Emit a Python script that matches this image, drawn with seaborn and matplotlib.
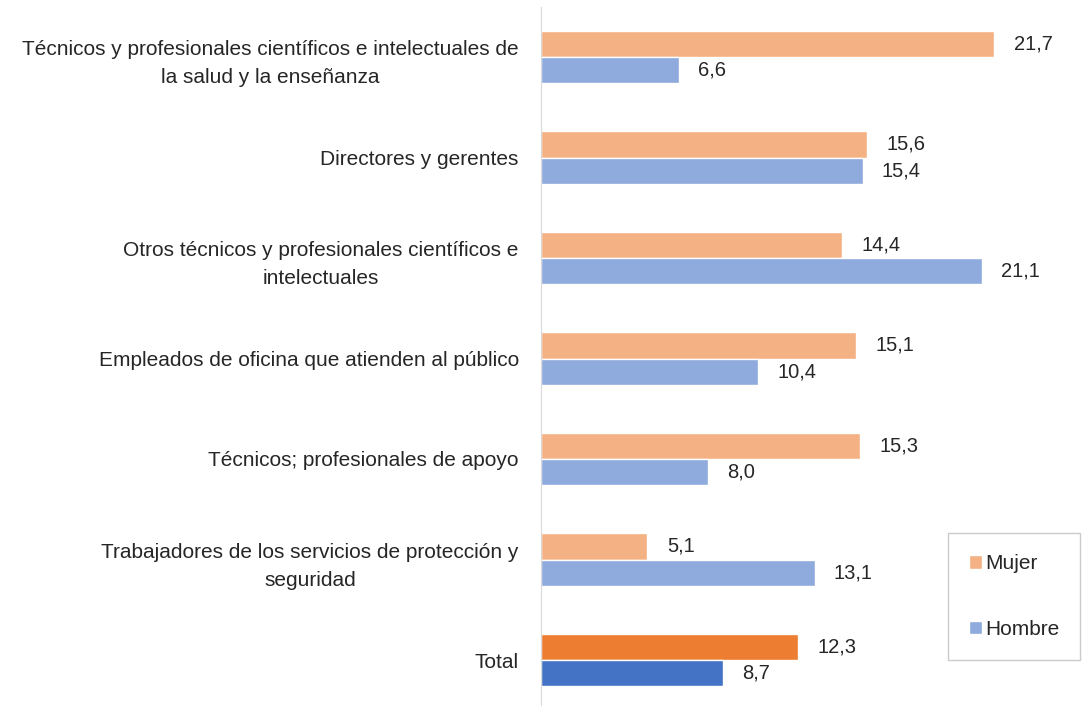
import pandas as pd
import matplotlib
matplotlib.use('Agg')
import matplotlib.pyplot as plt
import seaborn as sns

categorias = [
    "Técnicos y profesionales científicos e intelectuales de\nla salud y la enseñanza",
    "Directores y gerentes",
    "Otros técnicos y profesionales científicos e\nintelectuales",
    "Empleados de oficina que atienden al público",
    "Técnicos; profesionales de apoyo",
    "Trabajadores de los servicios de protección y\nseguridad",
    "Total",
]
mujer = [21.7, 15.6, 14.4, 15.1, 15.3, 5.1, 12.3]
hombre = [6.6, 15.4, 21.1, 10.4, 8.0, 13.1, 8.7]
series = ["Mujer", "Hombre"]

df = pd.DataFrame({
    'categoria': categorias * 2,
    'valor': mujer + hombre,
    'sexo': [series[0]] * len(categorias) + [series[1]] * len(categorias),
})

sns.set_style('white')
plt.rcParams['font.family'] = ['Liberation Sans', 'DejaVu Sans']

fig = plt.figure(figsize=(10.83, 7.06), dpi=100)
ax = fig.add_axes([541 / 1083, -4.25 / 706, 1 - 541 / 1083, 703.5 / 706])

sns.barplot(data=df, y='categoria', x='valor', hue='sexo', orient='h',
            width=0.52, saturation=1,
            palette={'Mujer': '#F4B183', 'Hombre': '#8FAADC'},
            ax=ax, legend=True)

# colores más oscuros para el total
ax.containers[0][-1].set_facecolor('#ED7D31')
ax.containers[1][-1].set_facecolor('#4472C4')

for cont, vals in zip(ax.containers, [mujer, hombre]):
    ax.bar_label(cont, labels=[f"{v:.1f}".replace('.', ',') for v in vals],
                 padding=14, fontsize=14.5, color='#262626')

ax.set_xlim(0, 25.96)
ax.set_ylim(6.5, -0.5)
ax.set_xlabel('')
ax.set_ylabel('')
ax.set_xticks([])
ax.tick_params(axis='y', length=0, pad=16, labelsize=15, labelcolor='#262626')
for lbl in ax.get_yticklabels():
    lbl.set_multialignment('center')
    lbl.set_linespacing(1.62)

for s in ['top', 'right', 'bottom']:
    ax.spines[s].set_visible(False)
ax.spines['left'].set_color('#d9d9d9')

leg = ax.legend(loc='lower right', bbox_to_anchor=(1080 / 1083, 1 - 660 / 706),
                bbox_transform=fig.transFigure, frameon=True, fancybox=False,
                edgecolor='#bfbfbf', fontsize=15, handlelength=0.6,
                handleheight=0.6, handletextpad=0.15, labelspacing=2.25,
                borderpad=1.0, borderaxespad=0)
leg.get_frame().set_linewidth(1.0)
for t in leg.get_texts():
    t.set_color('#262626')

fig.savefig('out.png', dpi=100)
